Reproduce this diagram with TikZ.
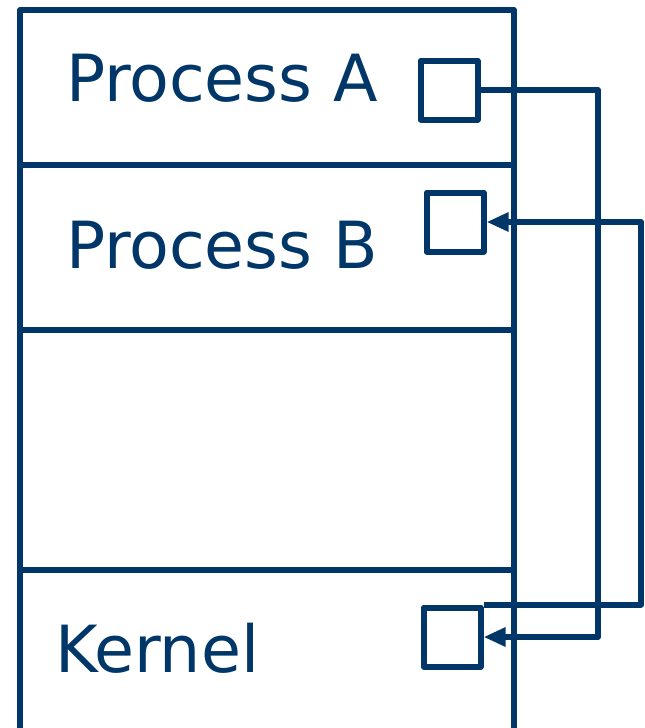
\documentclass[tikz,border=0pt]{standalone}
\usepackage{fontspec}
\setmainfont{DejaVu Sans}
\usetikzlibrary{arrows.meta}
\definecolor{navy}{RGB}{0,54,104}

\begin{document}
\begin{tikzpicture}[
x=1pt,y=-1pt,
line width=6pt,line join=round,
slot/.style={rectangle,draw=navy,minimum width=57pt,minimum height=59pt,inner sep=0pt},
procname/.style={anchor=base west,inner sep=0pt,text=navy,font=\fontsize{65}{72}\selectfont},
arr/.style={-{Triangle[length=22pt,width=18pt]},draw=navy}
]
\useasboundingbox (0,0) rectangle (645,728);
% memory column
\draw[navy] (20,728) -- (20,10) -- (514,10) -- (514,728);
\draw[navy] (20,165) -- (514,165);
\draw[navy] (20,330) -- (514,330);
\draw[navy] (20,570) -- (514,570);
\node[procname] (procA) at (63,101) {Process A};
\node[procname] (procB) at (63,268) {Process B};
\node[procname] (kern) at (52,672) {Kernel};
% buffers
\node[slot] (slotA) at (449,90) {};
\node[slot] (slotB) at (455,222) {};
\node[slot] (slotK) at (452,637) {};
\coordinate (busA) at (598,0);
\coordinate (busB) at (641,0);
\draw[arr] (slotA.east) -| (busA |- slotK.east) -- (slotK.east);
\draw[arr] (slotK.north east) -| (busB |- slotB.east) -- (slotB.east);
\end{tikzpicture}
\end{document}
